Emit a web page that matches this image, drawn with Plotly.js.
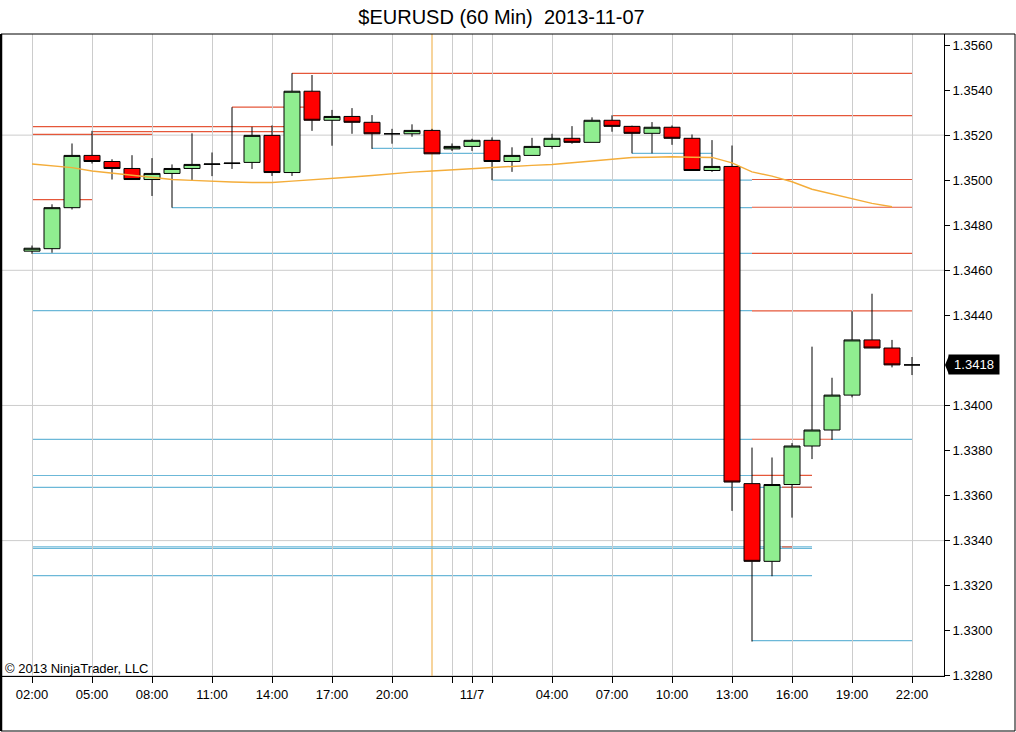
<!DOCTYPE html>
<html>
<head>
<meta charset="utf-8">
<script src="https://cdn.plot.ly/plotly-3.0.1.min.js"></script>
<style>
html,body{margin:0;padding:0;background:#ffffff;}
#chart{width:1016px;height:732px;}
</style>
</head>
<body>
<div id="chart"></div>
<script>
// ---- data ----
const times = [
 '2013-11-06 02:00','2013-11-06 03:00','2013-11-06 04:00','2013-11-06 05:00','2013-11-06 06:00',
 '2013-11-06 07:00','2013-11-06 08:00','2013-11-06 09:00','2013-11-06 10:00','2013-11-06 11:00',
 '2013-11-06 12:00','2013-11-06 13:00','2013-11-06 14:00','2013-11-06 15:00','2013-11-06 16:00',
 '2013-11-06 17:00','2013-11-06 18:00','2013-11-06 19:00','2013-11-06 20:00','2013-11-06 21:00',
 '2013-11-06 22:00','2013-11-06 23:00','2013-11-07 00:00','2013-11-07 01:00','2013-11-07 02:00',
 '2013-11-07 03:00','2013-11-07 04:00','2013-11-07 05:00','2013-11-07 06:00','2013-11-07 07:00',
 '2013-11-07 08:00','2013-11-07 09:00','2013-11-07 10:00','2013-11-07 11:00','2013-11-07 12:00',
 '2013-11-07 13:00','2013-11-07 14:00','2013-11-07 15:00','2013-11-07 16:00','2013-11-07 17:00',
 '2013-11-07 18:00','2013-11-07 19:00','2013-11-07 20:00','2013-11-07 21:00','2013-11-07 22:00'
];
const openPrices = [
 1.34685,1.34696,1.34878,1.35110,1.35083,1.35052,1.35003,1.35030,1.35052,1.35070,
 1.35074,1.35079,1.35199,1.35034,1.35395,1.35266,1.35283,1.35257,1.35206,1.35206,
 1.35221,1.35139,1.35150,1.35177,1.35083,1.35110,1.35150,1.35186,1.35168,1.35266,
 1.35239,1.35208,1.35235,1.35186,1.35043,1.35061,1.33653,1.33308,1.33649,1.33820,
 1.33891,1.34046,1.34291,1.34255,1.34180
];
const highPrices = [
 1.34710,1.34893,1.35163,1.35219,1.35093,1.35111,1.35098,1.35070,1.35208,1.35123,
 1.35324,1.35237,1.35243,1.35475,1.35467,1.35312,1.35320,1.35289,1.35228,1.35248,
 1.35228,1.35163,1.35184,1.35190,1.35146,1.35188,1.35206,1.35240,1.35279,1.35288,
 1.35242,1.35258,1.35243,1.35203,1.35178,1.35154,1.33813,1.33769,1.33833,1.34261,
 1.34123,1.34418,1.34496,1.34291,1.34215
];
const lowPrices = [
 1.34673,1.34678,1.34870,1.35074,1.35003,1.35003,1.34930,1.34878,1.35000,1.35018,
 1.35050,1.35050,1.35019,1.35019,1.35219,1.35153,1.35206,1.35139,1.35162,1.35193,
 1.35117,1.35130,1.35130,1.35000,1.35037,1.35110,1.35139,1.35162,1.35168,1.35215,
 1.35119,1.35119,1.35157,1.35043,1.35037,1.33532,1.32952,1.33242,1.33502,1.33762,
 1.33847,1.34036,1.34255,1.34169,1.34135
];
const closePrices = [
 1.34698,1.34878,1.35110,1.35083,1.35052,1.35003,1.35030,1.35052,1.35070,1.35072,
 1.35076,1.35199,1.35034,1.35395,1.35266,1.35283,1.35257,1.35206,1.35206,1.35221,
 1.35117,1.35150,1.35177,1.35083,1.35110,1.35150,1.35186,1.35168,1.35266,1.35239,
 1.35208,1.35235,1.35186,1.35043,1.35061,1.33660,1.33308,1.33649,1.33820,1.33891,
 1.34046,1.34291,1.34255,1.34180,1.34180
];
const movingAverage = [
 1.35072,1.35064,1.35056,1.35041,1.35032,1.35024,1.35015,1.35003,1.34999,1.34994,
 1.34992,1.34990,1.34990,1.34996,1.35001,1.35008,1.35014,1.35021,1.35030,1.35036,
 1.35041,1.35046,1.35052,1.35059,1.35062,1.35066,1.35070,1.35078,1.35087,1.35096,
 1.35101,1.35102,1.35104,1.35102,1.35101,1.35077,1.35037,1.35018,1.34993,1.34960,
 1.34938,1.34919,1.34897,1.34882
];
// support (blue) and resistance (red) levels, with first / last bar index
const supportLevels = [1.34675,1.34878,1.35000,1.35141,1.35119,1.35119,1.34421,1.33849,1.33849,1.33689,1.33636,1.33372,1.33365,1.33245,1.32956];
const supportFrom   = [0,      7,      23,     17,     20,     30,     0,      0,      40,     0,      0,      0,      0,      0,      36];
const supportTo     = [36,     36,     36,     20,     23,     34,     36,     36,     44,     36,     39,     39,     39,     39,     44];
const resistanceLevels = [1.35474,1.35324,1.35238,1.35216,1.35203,1.34914,1.35287,1.35003,1.34880,1.34675,1.34420,1.33850,1.33690,1.33637,1.33372];
const resistanceFrom   = [13,     10,     0,      3,      0,      0,      29,     36,     36,     36,     36,     36,     36,     37.5,   37.5];
const resistanceTo     = [44,     14,     13,     13,     6,      3,      44,     44,     44,     44,     44,     40,     39,     39,     38];
const gridLevels = [1.3280,1.3340,1.3400,1.3460,1.3520];
const sessionBreak = '2013-11-06 22:00';
const lastPrice = 1.3418;
const lastPriceLabel = '1.3418';
const xTickVals = ['2013-11-06 02:00','2013-11-06 05:00','2013-11-06 08:00','2013-11-06 11:00','2013-11-06 14:00',
 '2013-11-06 17:00','2013-11-06 20:00','2013-11-06 23:00','2013-11-07 00:00','2013-11-07 01:00',
 '2013-11-07 04:00','2013-11-07 07:00','2013-11-07 10:00','2013-11-07 13:00','2013-11-07 16:00',
 '2013-11-07 19:00','2013-11-07 22:00'];
const xTickText = ['02:00','05:00','08:00','11:00','14:00','17:00','20:00','','11/7','',
 '04:00','07:00','10:00','13:00','16:00','19:00','22:00'];
// price-axis ticks (1.3420 sits under the last-price marker)
const yTickVals = [1.3280,1.3300,1.3320,1.3340,1.3360,1.3380,1.3400,1.3440,1.3460,1.3480,1.3500,1.3520,1.3540,1.3560];
const yTickText = ['1.3280','1.3300','1.3320','1.3340','1.3360','1.3380','1.3400','1.3440','1.3460','1.3480','1.3500','1.3520','1.3540','1.3560'];

// ---- helpers ----
const t0 = Date.parse(times[0].replace(' ', 'T') + ':00Z');
function barTime(i) {
  return new Date(t0 + i * 3600000).toISOString().slice(0, 19).replace('T', ' ');
}

const FONT = 'Liberation Sans, Arial, sans-serif';
const RED_LINE = '#e5573a';
const BLUE_LINE = '#6cb8d8';

const shapes = [];
gridLevels.forEach(v => shapes.push({
  type: 'line', xref: 'paper', x0: 0, x1: 1, yref: 'y', y0: v, y1: v,
  line: {color: '#cccccc', width: 1}, layer: 'below'
}));
shapes.push({
  type: 'line', xref: 'x', x0: sessionBreak, x1: sessionBreak, yref: 'paper', y0: 0, y1: 1,
  line: {color: '#eea93a', width: 1}, layer: 'below'
});
supportLevels.forEach((v, i) => shapes.push({
  type: 'line', xref: 'x', yref: 'y',
  x0: barTime(supportFrom[i]), x1: barTime(supportTo[i]), y0: v, y1: v,
  line: {color: BLUE_LINE, width: 1.2}, layer: 'below'
}));
resistanceLevels.forEach((v, i) => shapes.push({
  type: 'line', xref: 'x', yref: 'y',
  x0: barTime(resistanceFrom[i]), x1: barTime(resistanceTo[i]), y0: v, y1: v,
  line: {color: RED_LINE, width: 1.2}, layer: 'below'
}));
// outer frame
shapes.push({
  type: 'rect', xref: 'paper', yref: 'paper',
  x0: 0, x1: 1014 / 943, y0: -55 / 642, y1: 1,
  line: {color: '#000000', width: 1}, fillcolor: 'rgba(0,0,0,0)', layer: 'above'
});
shapes.push({
  type: 'line', xref: 'paper', yref: 'paper', x0: 0, x1: 0, y0: -55 / 642, y1: 1,
  line: {color: '#000000', width: 2.5}, layer: 'above'
});
// last price marker arrow
shapes.push({
  type: 'path', xref: 'paper', xsizemode: 'pixel', xanchor: 1,
  yref: 'y', ysizemode: 'pixel', yanchor: lastPrice,
  path: 'M 1 0 L 5 -9.5 L 5 9.5 Z',
  fillcolor: '#000000', line: {width: 0}, layer: 'above'
});

const traces = [
  {
    type: 'candlestick',
    x: times, open: openPrices, high: highPrices, low: lowPrices, close: closePrices,
    increasing: {line: {color: '#000000', width: 1}, fillcolor: '#90ee90'},
    decreasing: {line: {color: '#000000', width: 1}, fillcolor: '#ff0000'},
    whiskerwidth: 0,
    hoverinfo: 'skip',
    showlegend: false
  },
  {
    type: 'scatter', mode: 'lines',
    x: times.slice(0, movingAverage.length), y: movingAverage,
    line: {color: '#f4ad3a', width: 1.4},
    hoverinfo: 'skip', showlegend: false
  }
];

const layout = {
  width: 1016, height: 732,
  margin: {l: 1, r: 72, t: 34, b: 56, pad: 0},
  paper_bgcolor: '#ffffff', plot_bgcolor: '#ffffff',
  showlegend: false, hovermode: false,
  boxgap: 0.2, boxgroupgap: 0,
  title: {
    text: '$EURUSD (60 Min)\u00a0 2013-11-07',
    font: {family: FONT, size: 20, color: '#000000'},
    xref: 'container', x: 501.5 / 1016, xanchor: 'center',
    yref: 'container', y: 1 - 16.5 / 732, yanchor: 'middle'
  },
  xaxis: {
    type: 'date',
    range: ['2013-11-06 00:27', '2013-11-07 23:36'],
    tickmode: 'array', tickvals: xTickVals, ticktext: xTickText,
    ticks: 'outside', ticklen: 6, tickcolor: '#000000', tickwidth: 1,
    showgrid: true, gridcolor: '#cccccc', gridwidth: 1,
    showline: true, linecolor: '#000000', linewidth: 1,
    zeroline: false,
    tickfont: {family: FONT, size: 13, color: '#000000'},
    rangeslider: {visible: false},
    fixedrange: true
  },
  yaxis: {
    side: 'right',
    range: [1.32799, 1.35649],
    tickmode: 'array', tickvals: yTickVals, ticktext: yTickText,
    ticks: 'outside', ticklen: 5, tickcolor: '#000000', tickwidth: 1,
    showgrid: false, zeroline: false,
    showline: true, linecolor: '#000000', linewidth: 1,
    tickfont: {family: FONT, size: 13, color: '#000000'},
    fixedrange: true
  },
  shapes: shapes,
  annotations: [
    {
      xref: 'paper', yref: 'paper', x: 2 / 943, y: 8 / 642,
      xanchor: 'left', yanchor: 'middle', showarrow: false,
      text: '\u00a9 2013 NinjaTrader, LLC',
      font: {family: FONT, size: 13, color: '#000000'}
    },
    {
      xref: 'paper', yref: 'y', x: 947 / 943, y: lastPrice,
      xanchor: 'left', yanchor: 'middle', showarrow: false,
      text: lastPriceLabel, bgcolor: '#000000', borderpad: 2, width: 46,
      font: {family: FONT, size: 13, color: '#ffffff'}
    }
  ]
};

Plotly.newPlot('chart', traces, layout, {displayModeBar: false, staticPlot: true});
</script>
</body>
</html>
